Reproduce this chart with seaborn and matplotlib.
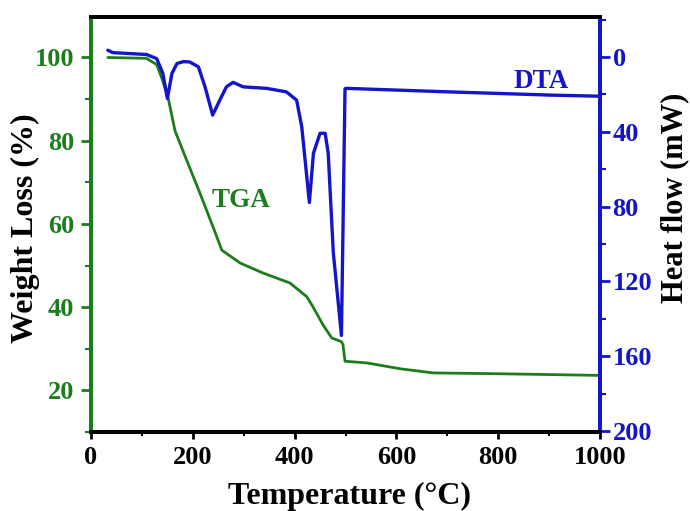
import matplotlib
matplotlib.use("Agg")
import matplotlib.pyplot as plt
from matplotlib.ticker import MultipleLocator
import seaborn as sns
import pandas as pd

# ---- data ----
tga_temp = [33, 109, 129, 141, 152, 165, 188, 214, 240, 257, 293, 338, 391,
            424, 436, 456, 473, 492, 495, 499, 542, 607, 672, 800, 902, 1000]
tga_weight = [100.0, 99.8, 98.3, 94.4, 90.0, 82.4, 75.3, 67.4, 59.2, 53.7, 50.6,
              48.2, 45.8, 42.5, 40.1, 35.7, 32.6, 31.7, 31.0, 27.0, 26.6, 25.2,
              24.2, 24.0, 23.8, 23.6]

dta_temp = [33, 43, 109, 129, 141, 150, 159, 169, 182, 194, 211, 224, 239, 253,
            266, 279, 299, 345, 384, 404, 414, 429, 437, 450, 460, 466, 476,
            492, 499, 502, 705, 902, 1000]
dta_heat = [-3.6, -2.3, -1.3, 0.9, 8.7, 22.2, 8.8, 3.5, 2.5, 2.7, 5.3, 16.0,
            31.1, 23.1, 16.0, 13.6, 16.0, 16.8, 18.7, 23.1, 37.3, 77.8, 51.5,
            40.8, 40.8, 51.5, 104.6, 148.9, 17.0, 16.8, 18.7, 20.4, 21.0]

x_ticks = [0, 200, 400, 600, 800, 1000]
left_ticks = [20, 40, 60, 80, 100]
right_ticks = [0, 40, 80, 120, 160, 200]

GREEN = "#1b7d1b"
BLUE = "#1414c8"

sns.set_style("ticks")
plt.rcParams["font.family"] = ["Liberation Serif", "DejaVu Serif"]
plt.rcParams["font.weight"] = "bold"

fig = plt.figure(figsize=(6.9, 5.11), dpi=100)
ax = fig.add_axes([0.1319, 0.1546, 0.7377, 0.8127])
ax2 = ax.twinx()

tga = pd.DataFrame({"T": tga_temp, "W": tga_weight})
dta = pd.DataFrame({"T": dta_temp, "H": dta_heat})

sns.lineplot(data=tga, x="T", y="W", ax=ax, color=GREEN, lw=2.0, sort=False)
sns.lineplot(data=dta, x="T", y="H", ax=ax2, color=BLUE, lw=2.4, sort=False)

ax.set_xlim(0, 1000)
ax.set_ylim(10, 109.8)
ax2.set_ylim(200.5, -21.5)

ax.set_xticks(x_ticks)
ax.xaxis.set_minor_locator(MultipleLocator(100))
ax.set_yticks(left_ticks)
ax.yaxis.set_minor_locator(MultipleLocator(10))
ax2.set_yticks(right_ticks)
ax2.yaxis.set_minor_locator(MultipleLocator(20))

fs_tick = 19
fs_lab = 23
for lab in ax.get_xticklabels():
    lab.set_fontsize(fs_tick); lab.set_fontweight("bold"); lab.set_color("black")
for lab in ax.get_yticklabels():
    lab.set_fontsize(fs_tick); lab.set_fontweight("bold"); lab.set_color(GREEN)
for lab in ax2.get_yticklabels():
    lab.set_fontsize(fs_tick); lab.set_fontweight("bold"); lab.set_color(BLUE)

ax.tick_params(axis="x", which="major", direction="out", length=5, width=2, colors="black", pad=5)
ax.tick_params(axis="x", which="minor", direction="out", length=3, width=1.5, colors="black")
ax.tick_params(axis="y", which="major", direction="out", length=7, width=2, colors=GREEN, pad=5)
ax.tick_params(axis="y", which="minor", direction="out", length=4, width=1.5, colors=GREEN)
ax2.tick_params(axis="y", which="major", direction="out", length=7, width=2, colors=BLUE, pad=2)
ax2.tick_params(axis="y", which="minor", direction="out", length=4, width=1.5, colors=BLUE)

for a in (ax, ax2):
    for s in a.spines.values():
        s.set_visible(True)
        s.set_linewidth(2.8)
    a.spines["top"].set_color("black")
    a.spines["bottom"].set_color("black")
ax.spines["left"].set_color(GREEN)
ax2.spines["left"].set_color(GREEN)
ax.spines["right"].set_color(BLUE)
ax2.spines["right"].set_color(BLUE)

ax.set_xlabel("Temperature (°C)", fontsize=fs_lab, fontweight="bold", color="black")
ax.set_ylabel("Weight Loss (%)", fontsize=fs_lab, fontweight="bold", color="black")
ax2.set_ylabel("Heat flow (mW)", fontsize=22, fontweight="bold", color="black")
ax.xaxis.set_label_coords(0.508, -0.12)
ax.yaxis.set_label_coords(-0.10, 0.49)
ax2.yaxis.set_label_coords(1.118, 0.565)

ax.text(295, 65.7, "TGA", color=GREEN, fontsize=19.5, fontweight="bold", ha="center", va="center")
ax2.text(884, 13, "DTA", color=BLUE, fontsize=19.5, fontweight="bold", ha="center", va="center")

fig.savefig("out.png", dpi=100, facecolor="white")
